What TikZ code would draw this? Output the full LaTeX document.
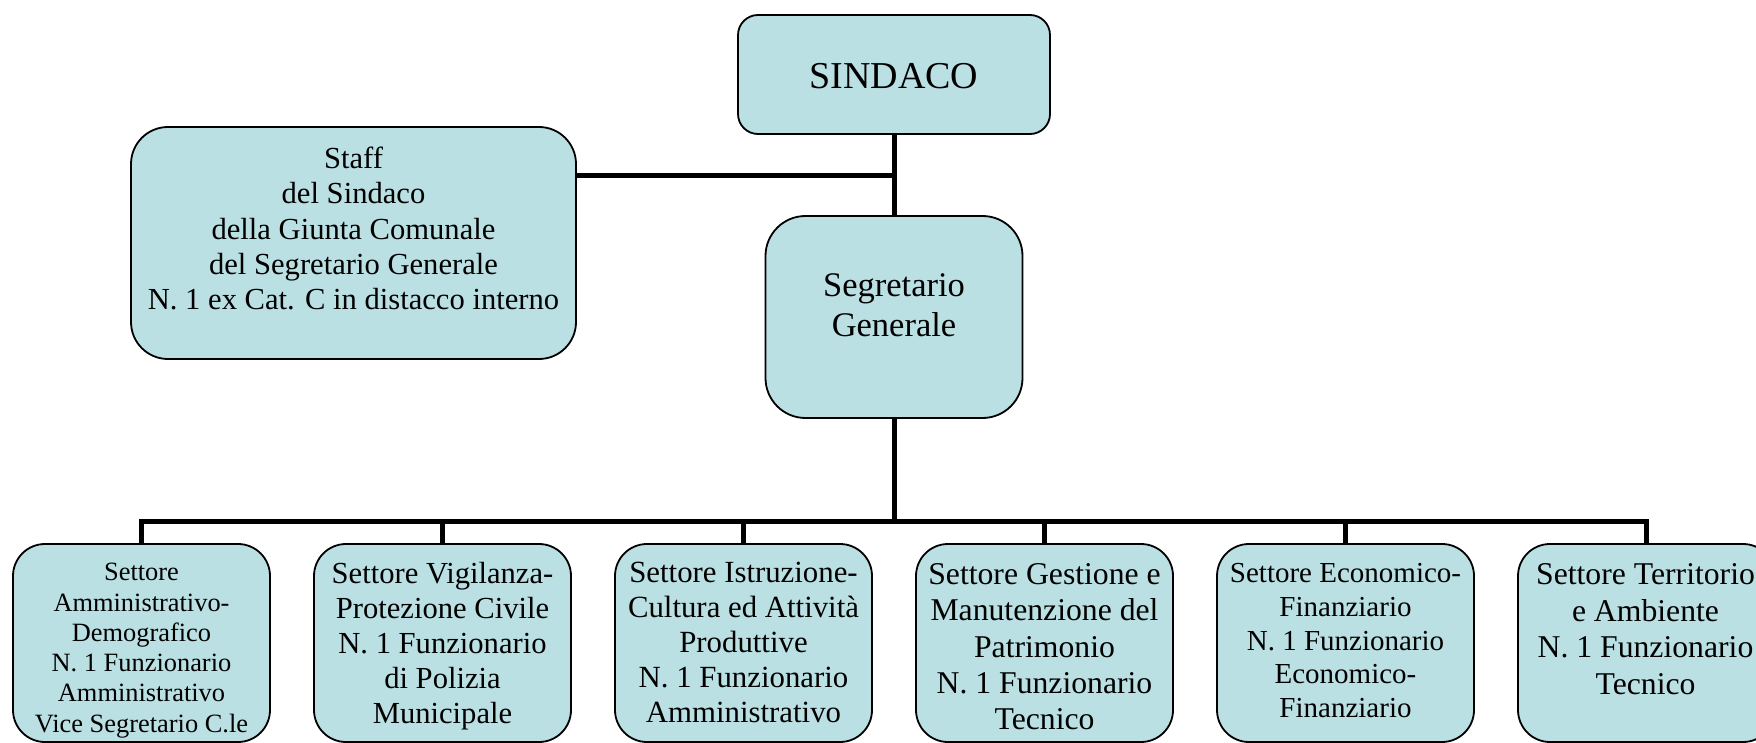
\documentclass[tikz,border=0pt]{standalone}
\usepackage{fontspec}
\setmainfont{Liberation Serif}
\definecolor{boxfill}{RGB}{186,224,227}
\tikzset{
  box/.style={draw=black, line width=1.8pt, fill=boxfill, inner sep=0pt},
  txt/.style={align=center, inner sep=0pt, anchor=north, text=black},
  conn/.style={draw=black, line width=5pt, line join=miter},
}
\begin{document}
\begin{tikzpicture}[x=1pt,y=-1pt]
\useasboundingbox (0,0) rectangle (1756,743);
\coordinate (j1) at (894,176);
\coordinate (bus) at (894,521);
% boxes
\node[box, rounded corners=20pt, minimum width=312pt, minimum height=119pt] (sindaco) at (894,74.5) {};
\node[box, rounded corners=37pt, minimum width=445pt, minimum height=232pt] (staff) at (353.5,243) {};
\node[box, rounded corners=40pt, minimum width=257pt, minimum height=202pt] (segr) at (894,317) {};
\foreach \i/\x in {1/141.5,2/442.5,3/743.5,4/1044.5,5/1345.5,6/1646.5}{
  \node[box, rounded corners=32pt, minimum width=257pt, minimum height=198pt] (s\i) at (\x,643) {};
}
% texts
\node[txt, anchor=center, font=\fontsize{38}{44}\selectfont] (tsind) at (894,76.5) {SINDACO};
\node[txt, font=\fontsize{30.6}{35.2}\selectfont] (tstaff) at (353.5,147) {Staff\\del Sindaco\\della Giunta Comunale\\del Segretario Generale\\N. 1 ex Cat. C in distacco interno};
\node[txt, font=\fontsize{34.5}{40}\selectfont] (tsegr) at (894,273) {Segretario\\Generale};
\node[txt, font=\fontsize{26.4}{30.3}\selectfont] (t1) at (141.5,563.1) {Settore\\Amministrativo-\\Demografico\\N. 1 Funzionario\\Amministrativo\\Vice Segretario C.le};
\node[txt, font=\fontsize{30.6}{35}\selectfont] (t2) at (442.5,562.3) {Settore Vigilanza-\\Protezione Civile\\N. 1 Funzionario\\di Polizia\\Municipale};
\node[txt, font=\fontsize{30.8}{35}\selectfont] (t3) at (743.5,562.2) {Settore Istruzione-\\Cultura ed Attività\\Produttive\\N. 1 Funzionario\\Amministrativo};
\node[txt, font=\fontsize{31.7}{36.3}\selectfont] (t4) at (1044.5,563.5) {Settore Gestione e\\Manutenzione del\\Patrimonio\\N. 1 Funzionario\\Tecnico};
\node[txt, font=\fontsize{29}{33.6}\selectfont] (t5) at (1345.5,563.4) {Settore Economico-\\Finanziario\\N. 1 Funzionario\\Economico-\\Finanziario};
\node[txt, font=\fontsize{31.7}{36.6}\selectfont] (t6) at (1645.5,563.5) {Settore Territorio\\e Ambiente\\N. 1 Funzionario\\Tecnico};
% connectors
\draw[conn] (sindaco.south) -- (segr.north);
\draw[conn] (staff.east |- j1) -- (j1);
\draw[conn] (segr.south) -- (bus);
\draw[conn] (s1.north) -- (s1.north |- bus) -- (s6.north |- bus) -- (s6.north);
\foreach \i in {2,3,4,5}{
  \draw[conn] (s\i.north |- bus) -- (s\i.north);
}
\end{tikzpicture}
\end{document}
